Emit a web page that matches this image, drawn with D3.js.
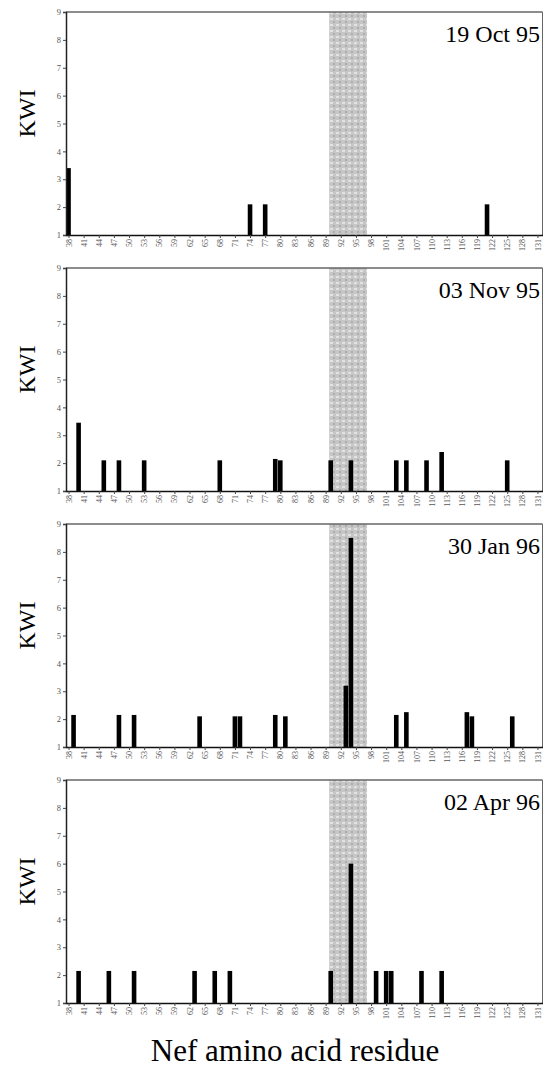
<!DOCTYPE html>
<html>
<head>
<meta charset="utf-8">
<script src="https://cdn.jsdelivr.net/npm/d3@7"></script>
<style>
  body { margin: 0; background: #fff; }
  svg text { font-family: "Liberation Serif", "DejaVu Serif", serif; }
</style>
</head>
<body>
<div id="chart"></div>
<script>
// panel dates, top to bottom
var dates = ['19 Oct 95', '03 Nov 95', '30 Jan 96', '02 Apr 96'];

// residue numbers with a KWI bar, and their KWI values
var oct95Res = [38, 74, 77, 121],
    oct95Kwi = [3.4, 2.1, 2.1, 2.1];
var nov95Res = [40, 45, 48, 53, 68, 79, 80, 90, 94, 103, 105, 109, 112, 125],
    nov95Kwi = [3.45, 2.1, 2.1, 2.1, 2.1, 2.15, 2.1, 2.1, 2.1, 2.1, 2.1, 2.1, 2.4, 2.1];
var jan96Res = [39, 48, 51, 64, 71, 72, 79, 81, 93, 94, 103, 105, 117, 118, 126],
    jan96Kwi = [2.15, 2.15, 2.15, 2.1, 2.1, 2.1, 2.15, 2.1, 3.2, 8.5, 2.15, 2.25, 2.25, 2.1, 2.1];
var apr96Res = [40, 46, 51, 63, 67, 70, 90, 94, 99, 101, 102, 108, 112],
    apr96Kwi = [2.15, 2.15, 2.15, 2.15, 2.15, 2.15, 2.15, 6.0, 2.15, 2.15, 2.15, 2.15, 2.15];

var panelRes = [oct95Res, nov95Res, jan96Res, apr96Res],
    panelKwi = [oct95Kwi, nov95Kwi, jan96Kwi, apr96Kwi];

// x tick labels (residues) and y tick labels (KWI)
var xTicks = [38, 41, 44, 47, 50, 53, 56, 59, 62, 65, 68, 71, 74, 77, 80, 83, 86,
              89, 92, 95, 98, 101, 104, 107, 110, 113, 116, 119, 122, 125, 128, 131];
var yTicks = [1, 2, 3, 4, 5, 6, 7, 8, 9];

// shaded epitope region, residues
var shadeRange = [89.7, 97.2];

var width = 545, height = 1068;
var panelTop = 12, panelH = 223, panelStep = 256;

var svg = d3.select('#chart').append('svg')
    .attr('width', width).attr('height', height);

var defs = svg.append('defs');
var pat = defs.append('pattern').attr('id', 'shade')
    .attr('patternUnits', 'userSpaceOnUse')
    .attr('width', 6).attr('height', 6);
pat.append('rect').attr('width', 6).attr('height', 6).attr('fill', '#c6c6c6');
pat.append('rect').attr('x', 0).attr('y', 0).attr('width', 3).attr('height', 2).attr('fill', '#e2e2e2');
pat.append('rect').attr('x', 3).attr('y', 3).attr('width', 2).attr('height', 2).attr('fill', '#adadad');

var x = d3.scaleLinear().domain([37.5, 132]).range([66, 542.5]);
var barW = 4.6;

dates.forEach(function(date, i){
    var top = panelTop + i*panelStep,
        base = top + panelH;
    var y = d3.scaleLinear().domain([1, 9]).range([base, top]);
    var g = svg.append('g').attr('class', 'panel');

    // shaded region
    g.append('rect')
        .attr('x', x(shadeRange[0])).attr('y', top)
        .attr('width', x(shadeRange[1]) - x(shadeRange[0]))
        .attr('height', base - top)
        .attr('fill', 'url(#shade)');

    // frame
    g.append('line').attr('x1', x(37.5)).attr('x2', x(132))
        .attr('y1', top).attr('y2', top)
        .attr('stroke', '#666').attr('stroke-width', 1.4);
    g.append('line').attr('x1', x(132)).attr('x2', x(132))
        .attr('y1', top).attr('y2', base)
        .attr('stroke', '#666').attr('stroke-width', 1);

    // bars
    var rows = panelRes[i].map(function(r, j){ return {res: r, kwi: panelKwi[i][j]}; });
    g.selectAll('rect.bar').data(rows).enter().append('rect')
        .attr('class', 'bar')
        .attr('x', function(d){ return x(d.res) - barW/2; })
        .attr('y', function(d){ return y(d.kwi); })
        .attr('width', barW)
        .attr('height', function(d){ return base - y(d.kwi); })
        .attr('fill', '#000');

    // y axis
    var yAxis = d3.axisLeft(y).tickValues(yTicks).tickSize(3).tickPadding(2);
    var ya = g.append('g').attr('transform', 'translate(' + x(37.5) + ',0)').call(yAxis);
    ya.select('.domain').attr('stroke', '#222').attr('stroke-width', 1.5);
    ya.selectAll('.tick line').attr('stroke', '#444');
    ya.selectAll('.tick text').attr('font-size', 8.5).attr('fill', '#555')
        .style('font-family', '"Liberation Serif", serif');

    // x axis
    var xAxis = d3.axisBottom(x).tickValues(xTicks).tickSize(3).tickSizeOuter(0);
    var xa = g.append('g').attr('transform', 'translate(0,' + base + ')').call(xAxis);
    xa.select('.domain').attr('stroke', '#111').attr('stroke-width', 1.3);
    xa.selectAll('.tick line').attr('stroke', '#444');
    xa.selectAll('.tick text')
        .attr('font-size', 8).attr('fill', '#555')
        .style('font-family', '"Liberation Serif", serif')
        .attr('text-anchor', 'end')
        .attr('dy', '0.32em')
        .attr('transform', 'translate(0,4)rotate(-90)')
        .attr('x', 0).attr('y', 0);

    // date label
    g.append('text')
        .attr('x', 540).attr('y', top + 30)
        .attr('text-anchor', 'end')
        .attr('font-size', 24)
        .text(date);

    // y title
    g.append('text')
        .attr('transform', 'translate(35,' + (top + panelH/2 - 10) + ')rotate(-90)')
        .attr('text-anchor', 'middle')
        .attr('font-size', 24)
        .text('KWI');
});

svg.append('text')
    .attr('x', 295).attr('y', 1061)
    .attr('text-anchor', 'middle')
    .attr('font-size', 31)
    .text('Nef amino acid residue');
</script>
</body>
</html>
